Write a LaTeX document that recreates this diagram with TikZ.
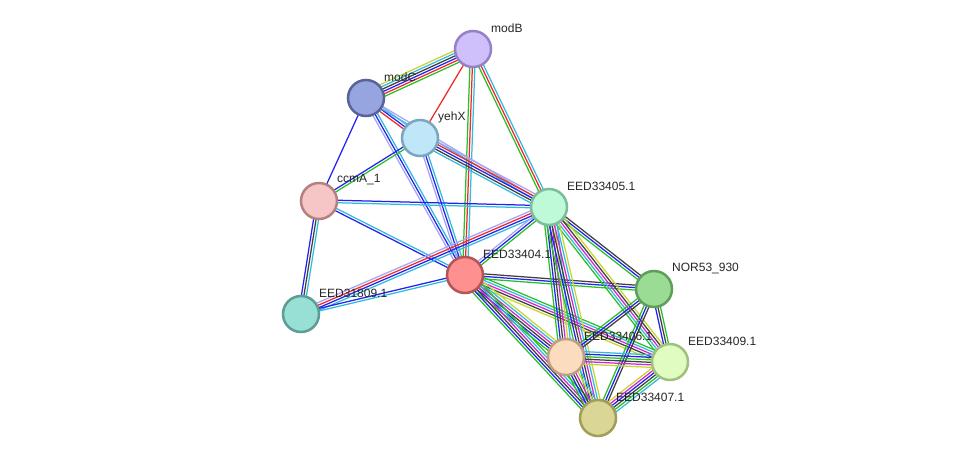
\documentclass[tikz,border=0pt]{standalone}
\usepackage{fontspec}
\setmainfont{Liberation Sans}
\usetikzlibrary{calc}
\pgfdeclarelayer{bg}
\pgfsetlayers{bg,main}
\definecolor{cyel}{RGB}{199,212,51}
\definecolor{ccyan}{RGB}{51,187,221}
\definecolor{cblk}{RGB}{64,64,64}
\definecolor{cblue}{RGB}{35,35,240}
\definecolor{cred}{RGB}{240,40,40}
\definecolor{cgreen}{RGB}{40,192,40}
\definecolor{cmag}{RGB}{208,40,208}
\definecolor{clav}{RGB}{165,165,245}
\definecolor{fmodB}{RGB}{207,192,252}\definecolor{dmodB}{RGB}{150,128,200}
\definecolor{fmodC}{RGB}{150,164,224}\definecolor{dmodC}{RGB}{88,100,152}
\definecolor{fyehX}{RGB}{192,230,250}\definecolor{dyehX}{RGB}{124,166,190}
\definecolor{fccmA}{RGB}{246,198,198}\definecolor{dccmA}{RGB}{180,128,128}
\definecolor{fE05}{RGB}{190,250,216}\definecolor{dE05}{RGB}{124,190,154}
\definecolor{fE04}{RGB}{255,144,144}\definecolor{dE04}{RGB}{180,84,84}
\definecolor{fNOR}{RGB}{154,220,148}\definecolor{dNOR}{RGB}{94,158,90}
\definecolor{fE31}{RGB}{152,223,214}\definecolor{dE31}{RGB}{92,158,150}
\definecolor{fE06}{RGB}{252,220,190}\definecolor{dE06}{RGB}{190,160,128}
\definecolor{fE09}{RGB}{224,252,192}\definecolor{dE09}{RGB}{160,192,128}
\definecolor{fE07}{RGB}{218,215,150}\definecolor{dE07}{RGB}{160,158,88}
\tikzset{
  prot/.style={circle, minimum size=36pt, inner sep=0pt, line width=2.5pt},
  lbl/.style={anchor=west, font=\fontsize{12}{14}\selectfont, inner sep=0pt, text=black!85},
  evline/.style={line width=1.25pt}
}
\newcommand{\sedge}[3]{%
  \begin{pgfonlayer}{bg}%
  \foreach \cc [count=\ii] in {#3} {\xdef\nLines{\ii}}%
  \foreach \cc [count=\ii] in {#3} {%
    \pgfmathsetmacro\off{(\ii-(\nLines+1)/2)*2.5}%
    \draw[evline, color=\cc] ($(#1)!\off pt!90:(#2)$) -- ($(#2)!\off pt!-90:(#1)$);
  }%
  \end{pgfonlayer}}
\begin{document}
\begin{tikzpicture}[x=1pt,y=-1pt]
\useasboundingbox (0,0) rectangle (975,464);
\begin{pgfonlayer}{bg}
\fill[white] (0,0) rectangle (975,464);
\end{pgfonlayer}
% nodes
\node[prot, fill=fmodB, draw=dmodB] (modB) at (473,49) {};
\node[prot, fill=fmodC, draw=dmodC] (modC) at (366,98) {};
\node[prot, fill=fyehX, draw=dyehX] (yehX) at (420,138) {};
\node[prot, fill=fccmA, draw=dccmA] (ccmA) at (319,201) {};
\node[prot, fill=fE05, draw=dE05] (E05) at (549,207) {};
\node[prot, fill=fE04, draw=dE04] (E04) at (465,275) {};
\node[prot, fill=fNOR, draw=dNOR] (NOR) at (654,289) {};
\node[prot, fill=fE31, draw=dE31] (E31) at (301,314) {};
\node[prot, fill=fE06, draw=dE06] (E06) at (566,357) {};
\node[prot, fill=fE09, draw=dE09] (E09) at (670,362) {};
\node[prot, fill=fE07, draw=dE07] (E07) at (598,418) {};
% edges
\sedge{modB}{modC}{cyel,ccyan,cblk,cblue,cred,cgreen}
\sedge{modB}{yehX}{cred}
\sedge{modB}{E04}{cgreen,cred,ccyan}
\sedge{modB}{E05}{cgreen,cred,ccyan}
\sedge{modC}{yehX}{cred,cblue,clav}
\sedge{modC}{E05}{ccyan,clav}
\sedge{modC}{ccmA}{cblue}
\sedge{modC}{E04}{clav,cblue,ccyan}
\sedge{yehX}{ccmA}{cblue,cgreen}
\sedge{yehX}{E05}{ccyan,cblk,cblue,cred,clav}
\sedge{yehX}{E04}{clav,cblue,ccyan}
\sedge{ccmA}{E05}{ccyan,cblue}
\sedge{ccmA}{E04}{cblue,ccyan}
\sedge{ccmA}{E31}{cblue,cblk,ccyan}
\sedge{E31}{E05}{ccyan,cblue,cred,clav}
\sedge{E31}{E04}{ccyan,cblue}
\sedge{E04}{E05}{cgreen,cblue,clav}
\sedge{E04}{NOR}{cgreen,cblue,cblk}
\sedge{E04}{E09}{cyel,cblk,cmag,ccyan,cgreen}
\sedge{E04}{E06}{cgreen,cblue,cblk,cmag,ccyan,cyel}
\sedge{E04}{E07}{cgreen,cblue,cblk,cmag,ccyan,cgreen}
\sedge{E05}{NOR}{cgreen,cblue,cblk}
\sedge{E05}{E09}{cgreen,ccyan,cmag,cblk,cyel}
\sedge{E05}{E06}{cgreen,cblue,cblk,cmag,cyel,ccyan}
\sedge{E05}{E07}{cgreen,cblue,cblk,cmag,ccyan,cyel}
\sedge{NOR}{E06}{cgreen,cblue,cblk}
\sedge{NOR}{E09}{cblue,cblk,cgreen}
\sedge{NOR}{E07}{cgreen,cblue,cblk}
\sedge{E06}{E09}{cyel,cmag,cblk,cgreen,cblue,ccyan}
\sedge{E06}{E07}{cgreen,cblue,cblk,cmag,cyel,ccyan}
\sedge{E09}{E07}{cyel,cmag,cblue,cblk,cgreen,ccyan}
% labels
\node[lbl] (modBl) at ($(modB)+(18,-21)$) {modB};
\node[lbl] (modCl) at ($(modC)+(18,-21)$) {modC};
\node[lbl] (yehXl) at ($(yehX)+(18,-21)$) {yehX};
\node[lbl] (ccmAl) at ($(ccmA)+(18,-21)$) {ccmA\_1};
\node[lbl] (E05l) at ($(E05)+(18,-21)$) {EED33405.1};
\node[lbl] (E04l) at ($(E04)+(18,-21)$) {EED33404.1};
\node[lbl] (NORl) at ($(NOR)+(18,-21)$) {NOR53\_930};
\node[lbl] (E31l) at ($(E31)+(18,-21)$) {EED31809.1};
\node[lbl] (E06l) at ($(E06)+(18,-21)$) {EED33406.1};
\node[lbl] (E09l) at ($(E09)+(18,-21)$) {EED33409.1};
\node[lbl] (E07l) at ($(E07)+(18,-21)$) {EED33407.1};
\end{tikzpicture}
\end{document}
